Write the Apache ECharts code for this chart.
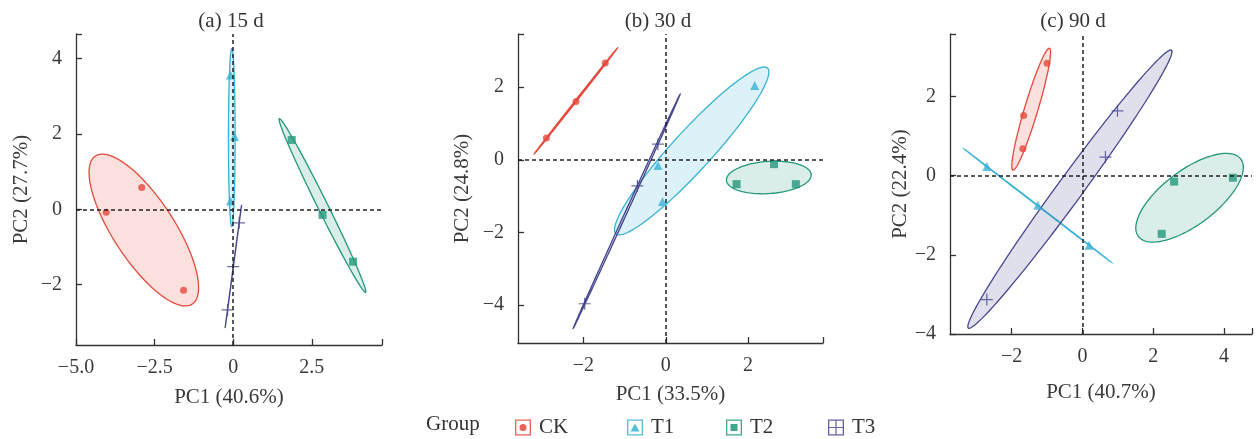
<!DOCTYPE html>
<html>
<head>
<meta charset="utf-8">
<script src="https://cdn.jsdelivr.net/npm/echarts@6/dist/echarts.min.js"></script>
<style>
  html, body { margin: 0; padding: 0; background: #fff; }
  #pca { width: 1257px; height: 439px; }
</style>
</head>
<body>
<div id="pca"></div>
<script>
// groups
const groups = ['CK', 'T1', 'T2', 'T3'];

// (a) 15 d scores [PC1, PC2]
const a15CK = [[-4.04, -0.08], [-2.91, 0.58], [-1.58, -2.15]];
const a15T1 = [[-0.09, 3.56], [0.04, 1.93], [-0.09, 0.22]];
const a15T2 = [[1.86, 1.84], [2.84, -0.15], [3.81, -1.39]];
const a15T3 = [[0.19, -0.36], [0.00, -1.52], [-0.18, -2.67]];

// (b) 30 d
const b30CK = [[-2.90, 0.60], [-2.18, 1.60], [-1.47, 2.66]];
const b30T1 = [[2.16, 2.04], [-0.19, -0.16], [-0.08, -1.15]];
const b30T2 = [[2.63, -0.12], [1.72, -0.67], [3.16, -0.67]];
const b30T3 = [[-0.19, 0.43], [-0.69, -0.72], [-1.97, -3.96]];

// (c) 90 d
const c90CK = [[-1.00, 2.84], [-1.66, 1.52], [-1.68, 0.68]];
const c90T1 = [[-2.70, 0.23], [-1.26, -0.75], [0.19, -1.76]];
const c90T2 = [[2.59, -0.15], [4.25, -0.05], [2.24, -1.47]];
const c90T3 = [[0.99, 1.64], [0.65, 0.47], [-2.70, -3.13]];

// axes
const titles = ['(a) 15 d', '(b) 30 d', '(c) 90 d'];
const xNames = ['PC1 (40.6%)', 'PC1 (33.5%)', 'PC1 (40.7%)'];
const yNames = ['PC2 (27.7%)', 'PC2 (24.8%)', 'PC2 (22.4%)'];
const xTicksA = [-5, -2.5, 0, 2.5];
const yTicksA = [-2, 0, 2, 4];
const xTicksB = [-2, 0, 2];
const yTicksB = [-4, -2, 0, 2];
const xTicksC = [-2, 0, 2, 4];
const yTicksC = [-4, -2, 0, 2];
const xRanges = [[-5, 4.73], [-3.59, 3.82], [-3.74, 4.79]];
const yRanges = [[-3.6, 4.65], [-5.04, 3.46], [-4, 3.58]];

// ---- styles / layout ----
const colors = { CK: '#e5493a', T1: '#38b2d5', T2: '#23977a', T3: '#46478e' };
const FONT = 'Liberation Serif';
const panels = [
  { data: [a15CK, a15T1, a15T2, a15T3], xt: xTicksA, yt: yTicksA, grid: { left: 76, top: 34, width: 306, height: 311 }, titleX: 231, yGap: 44, xGap: 42, xDec: 1 },
  { data: [b30CK, b30T1, b30T2, b30T3], xt: xTicksB, yt: yTicksB, grid: { left: 518, top: 34, width: 305, height: 309 }, titleX: 658, yGap: 45, xGap: 41, xDec: 0 },
  { data: [c90CK, c90T1, c90T2, c90T3], xt: xTicksC, yt: yTicksC, grid: { left: 950, top: 34, width: 302, height: 300 }, titleX: 1073, yGap: 38, xGap: 48, xDec: 0 }
];
const symbols = {
  CK: { symbol: 'circle', size: 7 },
  T1: { symbol: 'triangle', size: 9 },
  T2: { symbol: 'rect', size: 8 },
  T3: { symbol: 'path://M0,6H12M6,0V12', size: 12 }
};
const legendIcons = {
  CK: 'path://M0,0H16V16H0Z M1.3,1.3V14.7H14.7V1.3Z M4.5,8A3.5,3.5 0 1,0 11.5,8A3.5,3.5 0 1,0 4.5,8Z',
  T1: 'path://M0,0H16V16H0Z M1.3,1.3V14.7H14.7V1.3Z M3.5,12L8,4L12.5,12Z',
  T2: 'path://M0,0H16V16H0Z M1.3,1.3V14.7H14.7V1.3Z M4.5,4.5H11.5V11.5H4.5Z',
  T3: 'path://M0,0H16V16H0Z M1.3,1.3V14.7H14.7V1.3Z M1.3,7.4H14.7V8.6H1.3Z M7.4,1.3H8.6V14.7H7.4Z'
};
const ELLIPSE_K = Math.SQRT2;

// confidence ellipse outline from the group's scores (mean + k * chol(cov))
function ellipseOf(pts) {
  const n = pts.length;
  let mx = 0, my = 0;
  pts.forEach(p => { mx += p[0]; my += p[1]; });
  mx /= n; my /= n;
  let sxx = 0, syy = 0, sxy = 0;
  pts.forEach(p => {
    sxx += (p[0] - mx) * (p[0] - mx);
    syy += (p[1] - my) * (p[1] - my);
    sxy += (p[0] - mx) * (p[1] - my);
  });
  sxx /= n - 1; syy /= n - 1; sxy /= n - 1;
  const a = Math.sqrt(sxx), b = sxy / a, c = Math.sqrt(Math.max(syy - b * b, 0));
  const out = [];
  for (let i = 0; i <= 120; i++) {
    const t = 2 * Math.PI * i / 120;
    out.push([mx + ELLIPSE_K * a * Math.cos(t), my + ELLIPSE_K * (b * Math.cos(t) + c * Math.sin(t))]);
  }
  return { center: [mx, my], outline: out };
}

function fmt(dec) {
  return function (v) {
    if (Math.abs(v) < 1e-9) return '0';
    return (v < 0 ? '\u2212' : '') + Math.abs(v).toFixed(dec);
  };
}

const chart = echarts.init(document.getElementById('pca'));
const grid = [], xAxis = [], yAxis = [], series = [], title = [];
const axisLine = { show: true, onZero: false, lineStyle: { color: '#333', width: 1.3 } };
const tickStyle = { color: '#333', width: 1.3 };
const labelStyle = { fontFamily: FONT, fontSize: 20, color: '#3a3a3a' };
const nameStyle = { fontFamily: FONT, fontSize: 21, color: '#3a3a3a' };

panels.forEach((p, i) => {
  grid.push(Object.assign({ containLabel: false }, p.grid));
  title.push({
    text: titles[i], left: p.titleX, top: 11, textAlign: 'center', padding: 0,
    textStyle: { fontFamily: FONT, fontSize: 21, fontWeight: 'normal', color: '#333' }
  });
  xAxis.push({
    type: 'value', gridIndex: i, min: xRanges[i][0], max: xRanges[i][1],
    name: xNames[i], nameLocation: 'middle', nameGap: p.xGap, nameTextStyle: nameStyle,
    axisLine: axisLine, splitLine: { show: false },
    axisTick: { show: true, inside: true, length: 6, lineStyle: tickStyle, customValues: p.xt.concat([xRanges[i][1]]) },
    axisLabel: { margin: 13, customValues: p.xt, formatter: fmt(p.xDec), ...labelStyle }
  });
  yAxis.push({
    type: 'value', gridIndex: i, min: yRanges[i][0], max: yRanges[i][1],
    name: yNames[i], nameLocation: 'middle', nameGap: p.yGap, nameTextStyle: nameStyle,
    axisLine: axisLine, splitLine: { show: false },
    axisTick: { show: true, inside: true, length: 6, lineStyle: tickStyle, customValues: p.yt.concat([yRanges[i][1]]) },
    axisLabel: { margin: 14, customValues: p.yt, formatter: fmt(0), ...labelStyle }
  });

  groups.forEach((g, j) => {
    const e = ellipseOf(p.data[j]);
    series.push({
      type: 'custom', name: g, xAxisIndex: i, yAxisIndex: i, z: 1, silent: true,
      data: [e.center],
      renderItem: function (params, api) {
        return {
          type: 'polygon',
          shape: { points: e.outline.map(q => api.coord(q)) },
          style: { fill: echarts.color.modifyAlpha(colors[g], 0.17), stroke: colors[g], lineWidth: 1.3 }
        };
      }
    });
  });

  groups.forEach((g, j) => {
    const s = symbols[g];
    series.push({
      type: 'scatter', name: g, xAxisIndex: i, yAxisIndex: i, z: 3,
      symbol: s.symbol, symbolSize: s.size, data: p.data[j],
      itemStyle: g === 'T3'
        ? { color: 'transparent', borderColor: colors[g], borderWidth: 1.2 }
        : { color: colors[g] }
    });
  });

  // dashed reference lines at 0
  series.push({
    type: 'scatter', xAxisIndex: i, yAxisIndex: i, data: [], z: 2,
    markLine: {
      silent: true, symbol: 'none', animation: false,
      label: { show: false },
      lineStyle: { color: '#222', type: [4, 3], width: 1.5 },
      data: [{ xAxis: 0 }, { yAxis: 0 }]
    }
  });
});

title.push({
  text: 'Group', left: 426, top: 414, padding: 0,
  textStyle: { fontFamily: FONT, fontSize: 21, fontWeight: 'normal', color: '#333' }
});

const legendLeft = [515, 627, 726, 828];
const legend = groups.map((g, j) => ({
  left: legendLeft[j], top: 417, padding: 0,
  itemWidth: 16, itemHeight: 16, selectedMode: false,
  textStyle: { fontFamily: FONT, fontSize: 21, color: '#333', padding: [0, 0, 0, 3] },
  data: [{ name: g, icon: legendIcons[g], itemStyle: { color: colors[g], borderWidth: 0, opacity: 0.85 } }]
}));

chart.setOption({
  animation: false,
  title: title,
  legend: legend,
  grid: grid,
  xAxis: xAxis,
  yAxis: yAxis,
  series: series
});
</script>
</body>
</html>
